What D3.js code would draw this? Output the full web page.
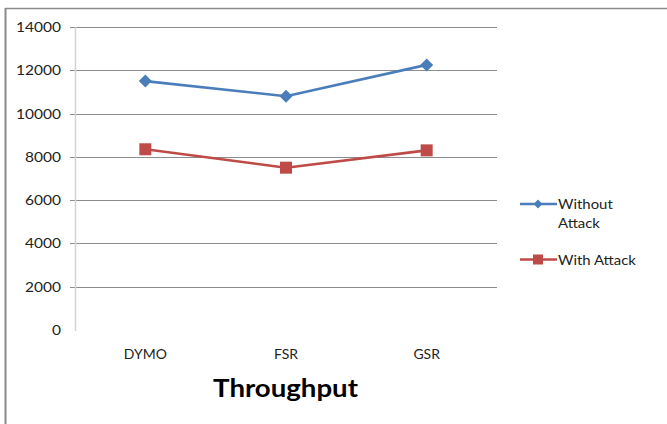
<!DOCTYPE html>
<html><head><meta charset="utf-8">
<script src="https://cdn.jsdelivr.net/npm/d3@7"></script>
<style>body{margin:0;background:#fff}svg{display:block}</style>
</head><body>
<svg id="c" width="667" height="424"></svg>
<script>
const categories = ["DYMO", "FSR", "GSR"];
const withoutAttack = [11500, 10800, 12250];
const withAttack = [8350, 7500, 8300];
const yTicks = [0, 2000, 4000, 6000, 8000, 10000, 12000, 14000];
const seriesNames = ["Without Attack", "With Attack"];
const title = "Throughput";

const svg = d3.select("#c");
const font = "Lato, 'Open Sans', sans-serif";
const blue = "#4a7ebb", red = "#be4b48";

// horizontally stretch a group of texts so a sample text reaches a target width
function stretch(sel, sampleNode, target, anchorMode){
  const w = sampleNode.getComputedTextLength();
  const sx = target / w;
  sel.each(function(){
    const t = d3.select(this);
    const x = +t.attr("x"), y = +t.attr("y");
    t.attr("x", 0).attr("y", 0).attr("transform", `translate(${x},${y}) scale(${sx},1)`);
  });
}

// frame
svg.append("line").attr("x1",5.5).attr("x2",5.5).attr("y1",8).attr("y2",424).attr("stroke","#8a8a8a").attr("stroke-width",2);
svg.append("line").attr("x1",5).attr("x2",667).attr("y1",8.5).attr("y2",8.5).attr("stroke","#8a8a8a").attr("stroke-width",1.5);

const x = d3.scaleBand().domain(categories).range([75, 497]);
const y = d3.scaleLinear().domain([0, 14000]).range([330, 27]);

// gridlines
svg.append("g").selectAll("line").data(yTicks.filter(d=>d>0)).join("line")
  .attr("x1",70).attr("x2",497).attr("y1",d=>Math.round(y(d))+0.5).attr("y2",d=>Math.round(y(d))+0.5)
  .attr("stroke","#8c8c8c").attr("stroke-width",1);
// y axis line
svg.append("line").attr("x1",75.5).attr("x2",75.5).attr("y1",27).attr("y2",331).attr("stroke","#d4d4d4").attr("stroke-width",1.5);

// y tick labels
const yl = svg.append("g").selectAll("text").data(yTicks).join("text")
  .attr("x",61).attr("y",d=>y(d)+5).attr("text-anchor","end")
  .attr("font-family",font).attr("font-size",14).attr("fill","#222").text(d=>d);
stretch(yl, yl.filter(d=>d===14000).node(), 45);

// x labels
const xl = svg.append("g").selectAll("text").data(categories).join("text")
  .attr("x",d=>x(d)+x.bandwidth()/2).attr("y",359).attr("text-anchor","middle")
  .attr("font-family",font).attr("font-size",13.5).attr("fill","#222").text(d=>d);
stretch(xl, xl.filter(d=>d==="DYMO").node(), 43);

// title
const tt = svg.append("text").attr("x",285.5).attr("y",397).attr("text-anchor","middle")
  .attr("font-family",font).attr("font-weight","bold").attr("font-size",25).attr("fill","#000").text(title);
stretch(tt, tt.node(), 145);

const line = d3.line().x((d,i)=>x(categories[i])+x.bandwidth()/2).y(d=>y(d));
function diamond(g, cx, cy, r, color){
  g.append("path").attr("d",`M${cx},${cy-r}L${cx+r},${cy}L${cx},${cy+r}L${cx-r},${cy}Z`).attr("fill",color);
}
function square(g, cx, cy, r, color){
  g.append("rect").attr("x",cx-r).attr("y",cy-r).attr("width",2*r).attr("height",2*r).attr("fill",color);
}
const g = svg.append("g");
g.append("path").datum(withoutAttack).attr("d",line).attr("fill","none").attr("stroke",blue).attr("stroke-width",2.6);
g.append("path").datum(withAttack).attr("d",line).attr("fill","none").attr("stroke",red).attr("stroke-width",2.6);
withoutAttack.forEach((v,i)=>diamond(g, x(categories[i])+x.bandwidth()/2, y(v), 6.5, blue));
withAttack.forEach((v,i)=>square(g, x(categories[i])+x.bandwidth()/2, y(v), 6, red));

// legend
const lg = svg.append("g");
lg.append("line").attr("x1",520).attr("x2",557).attr("y1",204).attr("y2",204).attr("stroke",blue).attr("stroke-width",2.6);
diamond(lg, 538, 204, 4.5, blue);
lg.append("line").attr("x1",520).attr("x2",557).attr("y1",259.5).attr("y2",259.5).attr("stroke",red).attr("stroke-width",2.6);
square(lg, 538, 259.5, 5, red);
const legTexts = [["Without",209],["Attack",227.5],["With Attack",265]];
const lt = lg.selectAll("text.l").data(legTexts).join("text").attr("class","l")
  .attr("x",558).attr("y",d=>d[1]).attr("font-family",font).attr("font-size",13.5).attr("fill","#222").text(d=>d[0]);
stretch(lt, lt.filter(d=>d[0]==="With Attack").node(), 78);
</script>
</body></html>
